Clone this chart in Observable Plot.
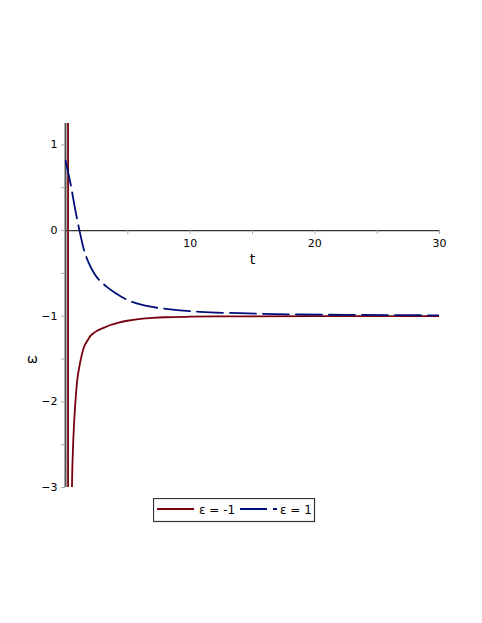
<!DOCTYPE html>
<html>
<head>
<meta charset="utf-8">
<script src="https://cdn.jsdelivr.net/npm/d3@7"></script>
<script src="https://cdn.jsdelivr.net/npm/@observablehq/plot@0.6"></script>
<style>
  body { margin: 0; background: #fff; font-family: "DejaVu Sans", sans-serif; }
  #chart svg { display: block; }
  #legend { margin-left: 153px; margin-top: 2px; display: block; }
</style>
</head>
<body>
<div id="chart"></div>
<div id="legend"></div>
<script>
// ε = -1 series
const tRed     = [0.2, 0.21, 0.52, 0.6, 0.7, 0.8, 0.94, 1.15, 1.47, 1.75, 2.0, 2.27, 2.54, 3.0, 3.6, 4.2, 4.95, 6, 7, 8, 10, 12, 15, 20, 25, 30];
const omegaRed = [40, -40, -3, -2.55, -2.22, -1.99, -1.75, -1.56, -1.365, -1.287, -1.23, -1.196, -1.17, -1.14, -1.103, -1.077, -1.053, -1.031, -1.019, -1.012, -1.006, -1.003, -1.001, -1.0, -1.0, -1.0];
// ε = 1 series
const tBlue     = [0, 0.4, 0.8, 1.12, 1.47, 1.87, 2.2, 2.54, 2.94, 3.34, 4.0, 4.81, 6.55, 8.42, 10.8, 14, 18.8, 24, 30];
const omegaBlue = [0.82, 0.55, 0.23, 0, -0.22, -0.38, -0.475, -0.55, -0.61, -0.66, -0.73, -0.80, -0.88, -0.92, -0.95, -0.965, -0.98, -0.985, -0.99];

const xDomain = [0, 30];
const yDomain = [-3, 1.25];
const xTickLabels = [10, 20, 30];
const xTicks = [5, 10, 15, 20, 25, 30];
const yTickLabels = [1, 0, -1, -2, -3];
const yTicks = [1, 0.5, 0, -0.5, -1, -1.5, -2, -2.5, -3];
const seriesNames = ["ε = -1", "ε = 1"];
const colors = ["#78000E", "#000E78"];

const red = tRed.map((t, i) => ({t, w: omegaRed[i]}));
const blue = tBlue.map((t, i) => ({t, w: omegaBlue[i]}));
const fmt = d => d < 0 ? "−" + Math.abs(d) : String(d);

const plot = Plot.plot({
  width: 482,
  height: 496,
  marginLeft: 65,
  marginRight: 43,
  marginTop: 123,
  marginBottom: 9,
  style: {fontFamily: "DejaVu Sans, sans-serif", fontSize: "11px", background: "white"},
  x: {domain: xDomain, axis: null},
  y: {domain: yDomain, axis: null},
  marks: [
    // x axis (through y = 0)
    Plot.ruleY([0], {stroke: "#333", strokeWidth: 1.3}),
    Plot.ruleX(xTicks, {x: d => d, y1: 0, y2: 0, insetBottom: -4, stroke: "#aaa"}),
    Plot.text(xTickLabels, {x: d => d, y: 0, dy: 13, text: d => fmt(d), fill: "#000"}),
    Plot.text(["t"], {x: d3.mean(xDomain), y: 0, dy: 29, text: d => d, fontSize: 14, fill: "#000"}),
    // y axis (at t = 0)
    Plot.ruleX([0], {stroke: "#555", strokeWidth: 2}),
    Plot.ruleY(yTicks, {y: d => d, x1: 0, x2: 0, insetLeft: -4, stroke: "#aaa"}),
    Plot.text(yTickLabels, {x: 0, y: d => d, dx: -8, textAnchor: "end", text: d => fmt(d), fill: "#000"}),
    Plot.text(["ω"], {x: 0, y: -1.5, dx: -33, text: d => d, fontSize: 13, fill: "#000"}),
    // curves
    Plot.line(red, {x: "t", y: "w", stroke: colors[0], strokeWidth: 1.8, curve: "monotone-x", clip: true}),
    Plot.line(blue, {x: "t", y: "w", stroke: colors[1], strokeWidth: 1.8, curve: "monotone-x", strokeDasharray: "26,7", clip: true})
  ]
});
document.getElementById("chart").appendChild(plot);

// legend
const lg = d3.select("#legend").append("svg").attr("width", 163).attr("height", 25);
lg.append("rect").attr("x", 0.5).attr("y", 0.5).attr("width", 161).attr("height", 23)
  .attr("fill", "white").attr("stroke", "#333").attr("stroke-width", 1.2);
const items = [
  {x1: 4, x2: 41, tx: 46, dash: null},
  {x1: 87, x2: 124, tx: 127, dash: "27,6"}
];
items.forEach((it, i) => {
  lg.append("line").attr("x1", it.x1).attr("x2", it.x2).attr("y1", 11).attr("y2", 11)
    .attr("stroke", colors[i]).attr("stroke-width", 1.8).attr("stroke-dasharray", it.dash);
  lg.append("text").attr("x", it.tx).attr("y", 16).attr("font-size", 12)
    .attr("font-family", "DejaVu Sans, sans-serif").text(seriesNames[i]);
});
</script>
</body>
</html>
